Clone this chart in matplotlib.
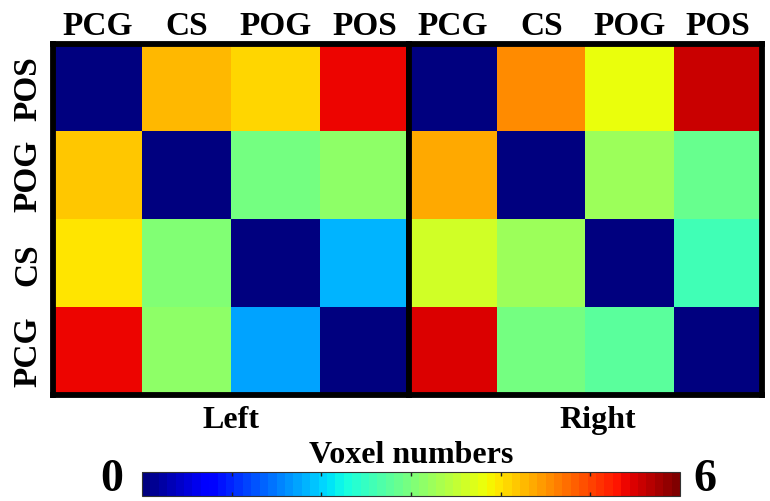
import numpy as np
import matplotlib
matplotlib.use("Agg")
import matplotlib.pyplot as plt

# Region names (columns left to right, rows top to bottom)
col_labels = ["PCG", "CS", "POG", "POS"]
row_labels = ["POS", "POG", "CS", "PCG"]

# Voxel numbers per region pair, rows listed top to bottom
left_values = np.array([
    [0.00, 4.25, 4.04, 5.38],
    [4.16, 0.00, 2.93, 3.15],
    [3.95, 3.03, 0.00, 1.79],
    [5.38, 3.15, 1.70, 0.00],
])
right_values = np.array([
    [0.00, 4.57, 3.83, 5.59],
    [4.38, 0.00, 3.27, 2.84],
    [3.64, 3.27, 0.00, 2.57],
    [5.51, 2.92, 2.72, 0.00],
])
panel_titles = ["Left", "Right"]
vmin, vmax = 0, 6
cbar_ticks = [1, 2, 3, 4, 5]

W, H = 770, 502
fig = plt.figure(figsize=(W / 100, H / 100), dpi=100)
FONT = "Liberation Serif"
cmap = plt.get_cmap("jet", 64)


def rect(x0, y0, x1, y1):
    """Pixel box (top-left origin) -> figure fraction rect."""
    return [x0 / W, 1 - y1 / H, (x1 - x0) / W, (y1 - y0) / H]


def fx(x):
    return x / W


def fy(y):
    return 1 - y / H


top, bottom = 44.5, 396
panels = [(53, 409), (409, 762)]
images = []
for (x0, x1), vals in zip(panels, [left_values, right_values]):
    ax = fig.add_axes(rect(x0, top, x1, bottom))
    im = ax.imshow(vals, cmap=cmap, vmin=vmin, vmax=vmax, aspect="auto",
                   interpolation="nearest")
    images.append(im)
    ax.set_xticks([])
    ax.set_yticks([])
    for sp in ax.spines.values():
        sp.set_linewidth(4.2)
        sp.set_color("black")
    # column labels above the panel
    for j, lab in enumerate(col_labels):
        cx = x0 + (x1 - x0) * (j + 0.5) / 4
        fig.text(fx(cx), fy(35), lab, ha="center", va="baseline",
                 fontsize=24, fontweight="bold", family=FONT)

# row labels on the far left
for i, lab in enumerate(row_labels):
    cy = top + (bottom - top) * (i + 0.5) / 4
    fig.text(fx(36), fy(cy), lab, ha="center", va="baseline", rotation=90,
             rotation_mode="anchor", fontsize=24, fontweight="bold",
             family=FONT)

# panel names below each matrix
fig.text(fx(231), fy(428), panel_titles[0], ha="center", va="baseline",
         fontsize=23, fontweight="bold", family=FONT)
fig.text(fx(598), fy(428), panel_titles[1], ha="center", va="baseline",
         fontsize=23, fontweight="bold", family=FONT)

# horizontal colour bar
cax = fig.add_axes(rect(142, 473, 680, 497))
cb = fig.colorbar(images[0], cax=cax, orientation="horizontal",
                  ticks=cbar_ticks)
cb.outline.set_linewidth(0.8)
cb.outline.set_edgecolor("#333333")
cax.tick_params(axis="x", which="both", direction="in", length=3, width=1,
                top=True, bottom=True, labelbottom=False, labeltop=False,
                color="#222222")
fig.text(fx(411), fy(463), "Voxel numbers", ha="center", va="baseline",
         fontsize=23, fontweight="bold", family=FONT)
fig.text(fx(112), fy(491), str(vmin), ha="center", va="baseline",
         fontsize=33, fontweight="bold", family=FONT)
fig.text(fx(705), fy(491), str(vmax), ha="center", va="baseline",
         fontsize=33, fontweight="bold", family=FONT)

fig.savefig("out.png", dpi=100, facecolor="white")
